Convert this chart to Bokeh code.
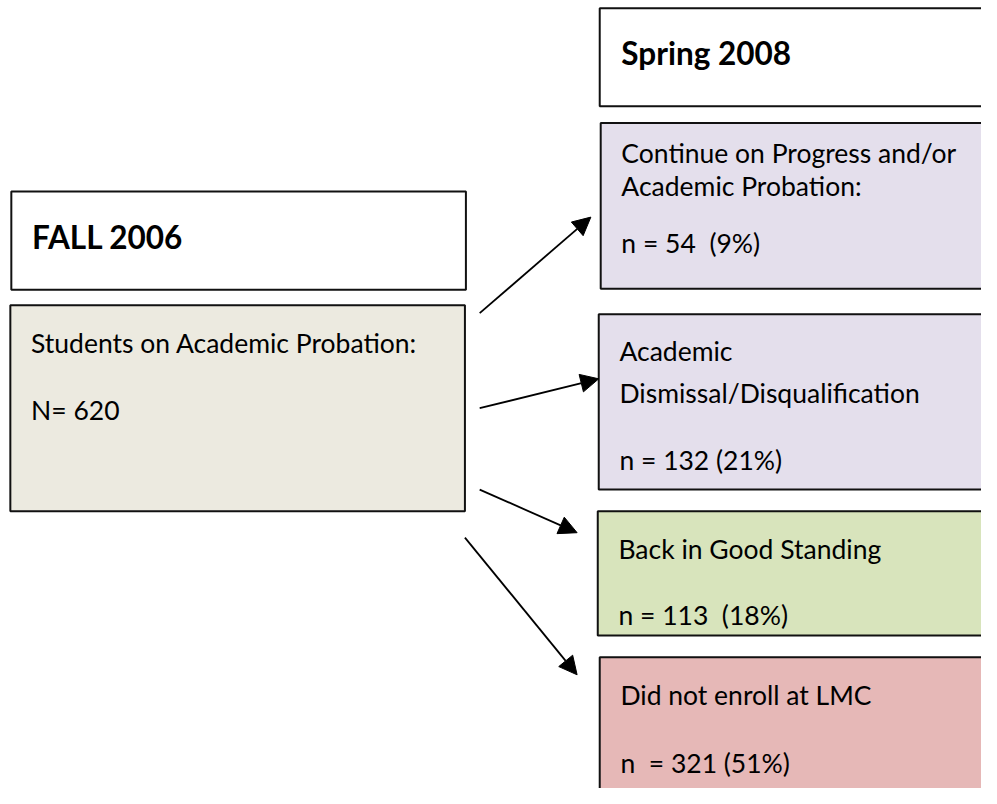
from bokeh.plotting import figure
from bokeh.models import Range1d, Arrow, NormalHead
from bokeh.core.properties import value
from bokeh.embed import file_html
from bokeh.resources import INLINE

# ---- data ----
start_term = "FALL 2006"
end_term = "Spring 2008"
start_label = "Students on Academic Probation:"
start_n = 620
outcome_labels = [
    ["Continue on Progress and/or", "Academic Probation:"],
    ["Academic", "Dismissal/Disqualification"],
    ["Back in Good Standing"],
    ["Did not enroll at LMC"],
]
outcome_n = [54, 132, 113, 321]
outcome_pct = [9, 21, 18, 51]
NB = "\u00a0"
n_formats = ["n = {n}" + NB + " ({p}%)", "n = {n} ({p}%)",
             "n = {n}" + NB + " ({p}%)", "n" + NB + " = {n} ({p}%)"]
outcome_colors = ["#E4DFEC", "#E4DFEC", "#D8E4BC", "#E6B8B7"]

# ---- layout (reference coordinates, y downward) ----
W, H = 981, 788
p = figure(width=W, height=H, output_backend="svg", toolbar_location=None,
           x_range=Range1d(0, 997), y_range=Range1d(804, 0),
           min_border=0)
p.axis.visible = False
p.grid.visible = False
p.outline_line_color = None
p.background_fill_color = "white"

FONT = "Lato"
BODY = "26.5px"
TITLE = "31.5px"
BORDER = "#111111"
LW = 2

# left boxes
p.quad(left=[11], right=[473], top=[195], bottom=[295], fill_color="white",
       line_color=BORDER, line_width=LW)
p.quad(left=[10], right=[472], top=[311], bottom=[521], fill_color="#ECEAE0",
       line_color=BORDER, line_width=LW)
p.text(x=[32], y=[241], text=[start_term], text_font=value(FONT),
       text_font_size=TITLE, text_font_style="bold", text_baseline="alphabetic",
       text_color="black")
p.text(x=[31, 31], y=[349, 418], text=[start_label, f"N= {start_n}"],
       text_font=value(FONT), text_font_size=BODY, text_baseline="alphabetic",
       text_color="black")

# right header
p.quad(left=[609], right=[1020], top=[8], bottom=[108], fill_color="white",
       line_color=BORDER, line_width=LW)
p.text(x=[631], y=[54], text=[end_term], text_font=value(FONT),
       text_font_size=TITLE, text_font_style="bold", text_baseline="alphabetic",
       text_color="black")

# outcome boxes
box_left = [610, 608, 607, 609]
box_top = [125, 320, 521, 670]
box_bot = [294, 499, 648, 840]
label_y = [[156, 189], [358, 400], [560], [709]]
n_y = [247, 469, 627, 778]

p.quad(left=box_left, right=[1020] * 4, top=box_top, bottom=box_bot,
       fill_color=outcome_colors, line_color=BORDER, line_width=LW)

xs, ys, ts = [], [], []
for i, lines in enumerate(outcome_labels):
    for j, line in enumerate(lines):
        xs.append(box_left[i] + 21)
        ys.append(label_y[i][j])
        ts.append(line)
    xs.append(box_left[i] + 21)
    ys.append(n_y[i])
    ts.append(n_formats[i].format(n=outcome_n[i], p=outcome_pct[i]))
p.text(x=xs, y=ys, text=ts, text_font=value(FONT), text_font_size=BODY,
       text_baseline="alphabetic", text_color="black")

# arrows
arrow_start = [(487, 319), (487, 416), (487, 499), (472, 548)]
arrow_end = [(600, 221), (608, 386), (586, 543), (586, 688)]
for (x0, y0), (x1, y1) in zip(arrow_start, arrow_end):
    p.add_layout(Arrow(end=NormalHead(size=18, fill_color="black", line_color="black"),
                       x_start=x0, y_start=y0, x_end=x1, y_end=y1,
                       line_color="black", line_width=1.8))

open("out.html", "w").write(file_html(p, INLINE))
